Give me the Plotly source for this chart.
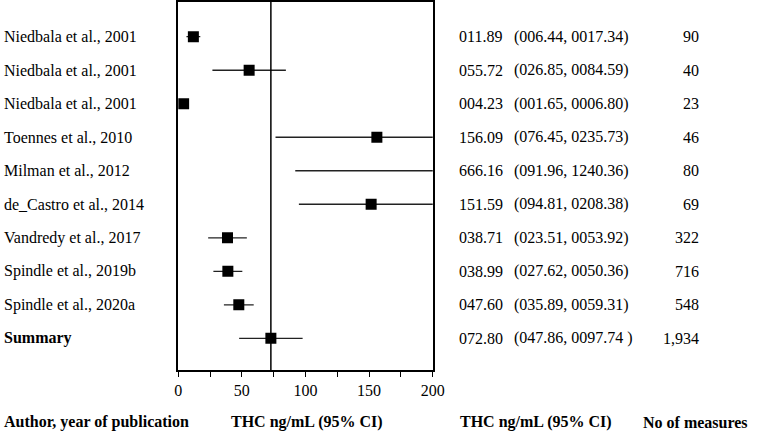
import plotly.graph_objects as go

# forest plot: THC concentrations per study
studies = ['Niedbala et al., 2001', 'Niedbala et al., 2001', 'Niedbala et al., 2001',
           'Toennes et al., 2010', 'Milman et al., 2012', 'de_Castro et al., 2014',
           'Vandredy et al., 2017', 'Spindle et al., 2019b', 'Spindle et al., 2020a',
           'Summary']
estimate = [11.89, 55.72, 4.23, 156.09, 666.16, 151.59, 38.71, 38.99, 47.60, 72.80]
lower = [6.44, 26.85, 1.65, 76.45, 91.96, 94.81, 23.51, 27.62, 35.89, 47.86]
upper = [17.34, 84.59, 6.80, 235.73, 1240.36, 208.38, 53.92, 50.36, 59.31, 97.74]
est_text = ['011.89', '055.72', '004.23', '156.09', '666.16', '151.59', '038.71', '038.99', '047.60', '072.80']
ci_text = ['(006.44, 0017.34)', '(026.85, 0084.59)', '(001.65, 0006.80)', '(076.45, 0235.73)',
           '(091.96, 1240.36)', '(094.81, 0208.38)', '(023.51, 0053.92)', '(027.62, 0050.36)',
           '(035.89, 0059.31)', '(047.86, 0097.74 )']
n_measures = ['90', '40', '23', '46', '80', '69', '322', '716', '548', '1,934']

rows = list(range(len(studies)))
font = dict(family='Liberation Serif', size=16, color='black')

fig = go.Figure()
fig.add_trace(go.Scatter(
    x=estimate, y=rows, mode='markers',
    marker=dict(symbol='square', size=11, color='black'),
    error_x=dict(type='data', symmetric=False,
                 array=[u - e for u, e in zip(upper, estimate)],
                 arrayminus=[e - l for e, l in zip(estimate, lower)],
                 width=0, thickness=1.3, color='#222'),
    showlegend=False,
))

# line through the summary estimate
fig.add_shape(type='line', xref='x', yref='y domain', x0=estimate[-1], x1=estimate[-1],
              y0=0, y1=1, line=dict(color='black', width=1.5))

for i in rows:
    label = f'<b>{studies[i]}</b>' if studies[i] == 'Summary' else studies[i]
    cols = [(0.0, label, 'left'), (465 / 757, est_text[i], 'left'),
            (521 / 757, ci_text[i], 'left'), (710 / 757, n_measures[i], 'right')]
    for xpos, txt, anchor in cols:
        fig.add_annotation(x=xpos, xref='paper', y=i, yref='y', text=txt, xanchor=anchor,
                           showarrow=False, borderpad=0, borderwidth=0, font=font)

headers = [('Author, year of publication', 0.0), ('THC ng/mL (95% CI)', 232 / 757),
           ('THC ng/mL (95% CI)', 466 / 757), ('No of measures', 653 / 757)]
for txt, xpos in headers:
    fig.add_annotation(x=xpos, xref='paper', y=1 - 422 / 438, yref='paper', text=f'<b>{txt}</b>',
                       xanchor='left', yanchor='middle', showarrow=False,
                       borderpad=0, borderwidth=0, font=font)

fig.update_layout(
    width=757, height=438,
    margin=dict(l=0, r=0, t=0, b=0),
    paper_bgcolor='white', plot_bgcolor='white',
    font=font,
    xaxis=dict(domain=[178 / 757, 438 / 757], range=[0, 200], dtick=50,
               showgrid=False, zeroline=False, showline=True, mirror=True,
               linecolor='black', linewidth=1.5, ticks='outside', ticklen=5,
               tickcolor='black', tickfont=font,
               minor=dict(dtick=25, ticks='outside', ticklen=5, tickcolor='black')),
    yaxis=dict(domain=[1 - 370 / 438, 0.998], range=[9.95, -1.04],
               showgrid=False, zeroline=False, showline=True, mirror=True,
               linecolor='black', linewidth=1.5, showticklabels=False, ticks=''),
)

# page margin off so the figure sits at the window's top-left corner
fig.write_html('out.html', config={'responsive': False, 'displayModeBar': False},
               post_script="document.body.style.margin='0';")
